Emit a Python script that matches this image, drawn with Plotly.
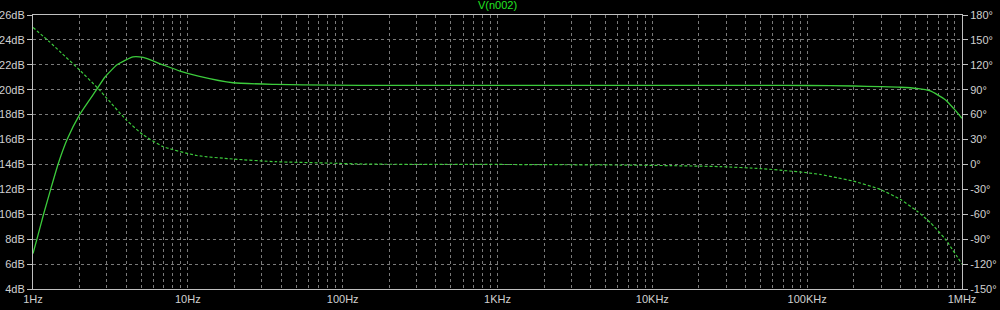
import plotly.graph_objects as go

# ---- data ----
title_text = "V(n002)"

mag_freq = [1, 1.06, 1.17, 1.30, 1.45, 1.66, 2.0, 2.57, 2.91, 3.49, 4.43, 5.14, 6.9, 8.9,
            11.7, 19.6, 37, 83, 200, 1000, 10000, 50000, 100000, 200000, 296000,
            399000, 511000, 624000, 780000, 883000, 1000000]
mag_db = [6.85, 8.0, 10.0, 12.0, 14.0, 16.0, 18.0, 20.0, 21.0, 22.0, 22.64, 22.59, 22.0, 21.5,
          21.1, 20.56, 20.43, 20.37, 20.35, 20.35, 20.35, 20.35, 20.34, 20.3, 20.25,
          20.2, 20.1, 19.9, 19.2, 18.5, 17.7]

ph_freq = [1, 1.28, 1.5, 2, 2.63, 3, 4.0, 5.14, 6.9, 11.4, 19.6, 37, 83, 143, 1000,
           6200, 13000, 27500, 50000, 74000, 100000, 121000, 156000, 198000, 296000,
           399000, 511000, 624000, 780000, 1000000]
ph_deg = [165, 147.6, 135.6, 113.7, 91.6, 79.7, 53.7, 35.7, 21.6, 10.8, 6.5, 3.3, 1.6,
          0.4, 0.0, -0.7, -1.4, -2.6, -5, -7.6, -10, -12, -16, -20, -30,
          -42, -56, -70, -90, -120]

decade_labels = ["1Hz", "10Hz", "100Hz", "1KHz", "10KHz", "100KHz", "1MHz"]
db_ticks = list(range(4, 27, 2))
deg_ticks = list(range(-150, 181, 30))

# ---- styling ----
LINE_GREEN = "#3ccc3c"
TITLE_GREEN = "#22e622"
GRID = "#7a7a7a"
AXIS = "#c0c0c0"
TXT = "#d0d0d0"
FONT = "Liberation Sans"

# tick positions on the log axis: all 1..9 multiples per decade, labels only at decades
xvals, xtext = [], []
for k, lab in enumerate(decade_labels):
    for m in range(1, 10):
        if k == len(decade_labels) - 1 and m > 1:
            break
        xvals.append(m * 10 ** k)
        xtext.append(lab if m == 1 else "")

db_text = [f"{v}dB" for v in db_ticks]
deg_text = [f"{v}°" for v in deg_ticks]

fig = go.Figure()
fig.add_trace(go.Scatter(x=mag_freq, y=mag_db, mode="lines",
                         line=dict(color=LINE_GREEN, width=1.3, shape="spline", smoothing=0.5),
                         hoverinfo="skip", showlegend=False))
fig.add_trace(go.Scatter(x=ph_freq, y=ph_deg, mode="lines", yaxis="y2",
                         line=dict(color=LINE_GREEN, width=1.2, dash="3px,2px",
                                   shape="spline", smoothing=0.5),
                         hoverinfo="skip", showlegend=False))

fig.update_layout(
    width=1000, height=310,
    margin=dict(l=33, r=38, t=15, b=21, autoexpand=False),
    paper_bgcolor="black", plot_bgcolor="black",
    font=dict(family=FONT, size=11, color=TXT),
    showlegend=False,
    xaxis=dict(type="log", range=[0, 6], tickmode="array", tickvals=xvals, ticktext=xtext,
               showgrid=True, gridcolor=GRID, griddash="3px,3px", gridwidth=1,
               showline=True, linecolor=AXIS, linewidth=1, mirror=True,
               ticks="", zeroline=False, automargin=False,
               tickfont=dict(family=FONT, size=11, color=TXT)),
    yaxis=dict(range=[4, 26], tickmode="array", tickvals=db_ticks, ticktext=db_text,
               showgrid=True, gridcolor=GRID, griddash="3px,3px", gridwidth=1,
               showline=True, linecolor=AXIS, linewidth=1,
               ticks="outside", ticklen=5, tickcolor=AXIS, zeroline=False,
               automargin=False, ticklabelstandoff=0,
               tickfont=dict(family=FONT, size=11, color=TXT)),
    yaxis2=dict(range=[-150, 180], tickmode="array", tickvals=deg_ticks, ticktext=deg_text,
                overlaying="y", side="right", showgrid=False,
                showline=True, linecolor=AXIS, linewidth=1,
                ticks="outside", ticklen=5, tickcolor=AXIS, zeroline=False,
                automargin=False,
                tickfont=dict(family=FONT, size=11, color=TXT)),
    annotations=[dict(text=title_text, xref="paper", yref="paper", x=0.5, y=1,
                      yshift=2, xanchor="center", yanchor="bottom", showarrow=False,
                      font=dict(family=FONT, size=11, color=TITLE_GREEN))],
)

fig.write_html("out.html")
